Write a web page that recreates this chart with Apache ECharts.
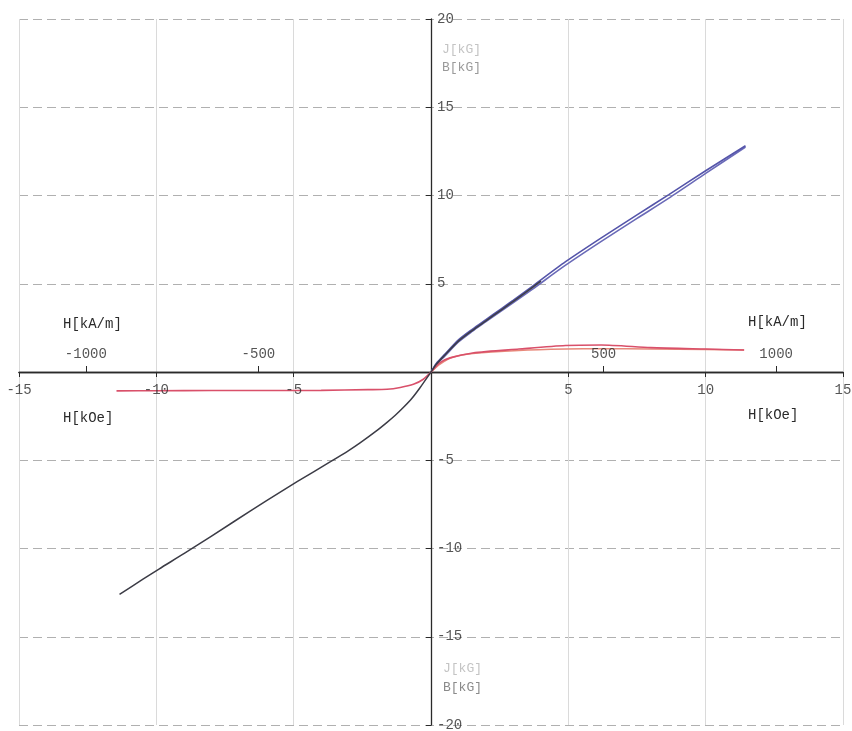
<!DOCTYPE html>
<html>
<head>
<meta charset="utf-8">
<script src="https://cdn.jsdelivr.net/npm/echarts@6/dist/echarts.min.js"></script>
<style>
html,body{margin:0;padding:0;background:#fff;}
#chart{width:852px;height:731px;}
</style>
</head>
<body>
<div id="chart"></div>
<script>
// ---- data (H in kOe, B/J in kG) ----
const xTicksKOe = [-15, -10, -5, 5, 10, 15];
const xTicksKAm = [-1000, -500, 500, 1000];
const yTicksKG = [-20, -15, -10, -5, 5, 10, 15, 20];

const blackH = [-11.34, -10.5, -9.89, -8.84, -7.17, -6, -4.86, -3.66, -3.0, -2.57, -2.0, -1.6, -1.3, -1.0, -0.7, -0.4, 0, 0.2, 0.5, 1.0, 1.5, 2.0, 2.5, 3.0, 3.7, 4.0];
const blackB = [-12.6, -11.75, -11.15, -10.14, -8.47, -7.3, -6.2, -5.08, -4.45, -4.0, -3.35, -2.85, -2.45, -2.0, -1.5, -0.89, 0, 0.45, 0.95, 1.75, 2.35, 2.9, 3.45, 4.0, 4.8, 5.15];

const blueH  = [0, 0.2, 0.5, 1.0, 1.5, 2.0, 2.5, 3.0, 3.7, 4.9, 6.2, 7.5, 8.66, 10, 11.45];
const blueB1 = [0, 0.5, 1.0, 1.82, 2.42, 2.97, 3.52, 4.07, 4.87, 6.25, 7.6, 8.9, 10.05, 11.4, 12.82];
const blueB2 = [0, 0.42, 0.9, 1.7, 2.3, 2.85, 3.4, 3.93, 4.7, 6.05, 7.4, 8.7, 9.85, 11.25, 12.75];

const redH = [-11.45, -10, -8, -6, -4, -2.3, -1.6, -1.12, -0.64, -0.28, 0, 0.33, 0.69, 1.52, 3.2, 4.9, 6.2, 8.0, 10, 11.4];
const redJ = [-1.07, -1.06, -1.05, -1.05, -1.04, -1.0, -0.98, -0.88, -0.7, -0.41, 0, 0.53, 0.8, 1.08, 1.3, 1.5, 1.53, 1.38, 1.3, 1.25];

const red2H = [0, 0.33, 0.81, 1.52, 3.2, 4.9, 6.2, 8.0, 10, 11.4];
const red2J = [0, 0.45, 0.85, 1.05, 1.22, 1.3, 1.32, 1.3, 1.27, 1.24];

const KOE_TO_KAM = 79.5775;

function pairs(xs, ys) { return xs.map((x, i) => [x, ys[i]]); }

const FONT = 'Liberation Mono';
const TXT = '#2a2a2a';
const chart = echarts.init(document.getElementById('chart'), null, {renderer: 'canvas'});

function lineSeries(name, xs, ys, color, width) {
  return {
    name: name, type: 'line', xAxisIndex: 0, yAxisIndex: 0,
    data: pairs(xs, ys), showSymbol: false, symbol: 'none',
    smooth: 0.25,
    lineStyle: {color: color, width: width},
    itemStyle: {color: color},
    emphasis: {disabled: true}, silent: true, z: 3
  };
}

function tickLabelSeries(data, xAxisIndex, pos, dist, fmt) {
  return {
    type: 'scatter', xAxisIndex: xAxisIndex, yAxisIndex: 0,
    data: data, symbol: 'circle', symbolSize: 0.01, silent: true,
    itemStyle: {color: 'rgba(0,0,0,0)'},
    label: {show: true, position: pos, distance: dist, formatter: fmt,
            fontFamily: FONT, fontSize: 14, color: TXT},
    emphasis: {disabled: true}, z: 5
  };
}

const option = {
  animation: false,
  backgroundColor: '#ffffff',
  grid: {left: 19, right: 9, top: 19, bottom: 6, containLabel: false, outerBoundsMode: 'none'},
  xAxis: [
    {
      type: 'value', min: -15, max: 15, interval: 5, position: 'bottom',
      axisLine: {show: true, onZero: true, onZeroAxisIndex: 0, lineStyle: {color: TXT, width: 1.3}},
      axisTick: {show: true, length: 5, lineStyle: {color: TXT}},
      axisLabel: {show: false},
      splitLine: {show: true, lineStyle: {color: '#dadada', width: 1}}
    },
    {
      type: 'value', min: -15 * KOE_TO_KAM, max: 15 * KOE_TO_KAM, position: 'top',
      axisLine: {show: true, onZero: true, onZeroAxisIndex: 0, lineStyle: {color: TXT, width: 1.3}},
      axisTick: {show: true, length: 6, customValues: xTicksKAm, lineStyle: {color: TXT}},
      axisLabel: {show: false},
      splitLine: {show: false}
    }
  ],
  yAxis: [
    {
      type: 'value', min: -20, max: 20, interval: 5,
      axisLine: {show: true, onZero: true, onZeroAxisIndex: 0, lineStyle: {color: TXT, width: 1.3}},
      axisTick: {show: true, length: 5, lineStyle: {color: TXT}},
      axisLabel: {show: false},
      splitLine: {show: true, lineStyle: {color: '#b0b0b0', width: 1, type: [9, 5]}}
    }
  ],
  graphic: [
    {type: 'text', left: 63, top: 317, style: {text: 'H[kA/m]', font: '14px "Liberation Mono"', fill: TXT}},
    {type: 'text', left: 748, top: 315, style: {text: 'H[kA/m]', font: '14px "Liberation Mono"', fill: TXT}},
    {type: 'text', left: 63, top: 411, style: {text: 'H[kOe]', font: '14px "Liberation Mono"', fill: TXT}},
    {type: 'text', left: 748, top: 408, style: {text: 'H[kOe]', font: '14px "Liberation Mono"', fill: TXT}},
    {type: 'text', left: 442, top: 43, style: {text: 'J[kG]', font: '13px "Liberation Mono"', fill: '#c4c4c4'}},
    {type: 'text', left: 442, top: 61, style: {text: 'B[kG]', font: '13px "Liberation Mono"', fill: '#9a9a9a'}},
    {type: 'text', left: 443, top: 662, style: {text: 'J[kG]', font: '13px "Liberation Mono"', fill: '#c4c4c4'}},
    {type: 'text', left: 443, top: 681, style: {text: 'B[kG]', font: '13px "Liberation Mono"', fill: '#8a8a8a'}}
  ],
  series: [
    lineSeries('B (blue 2)', blueH, blueB2, '#6a6ab8', 1.6),
    lineSeries('B (blue 1)', blueH, blueB1, '#5555aa', 1.6),
    lineSeries('J (red 2)', red2H, red2J, '#e8887a', 1.5),
    lineSeries('J (red)', redH, redJ, '#d9506a', 1.6),
    lineSeries('B (black)', blackH, blackB, '#3c3c46', 1.5),
    tickLabelSeries(xTicksKOe.map(v => [v, 0]), 0, 'bottom', 11, p => String(p.value[0])),
    tickLabelSeries(xTicksKAm.map(v => [v, 0]), 1, 'top', 11, p => String(p.value[0])),
    tickLabelSeries(yTicksKG.map(v => [0, v]), 0, 'right', 6, p => String(p.value[1]))
  ]
};
chart.setOption(option);
</script>
</body>
</html>
